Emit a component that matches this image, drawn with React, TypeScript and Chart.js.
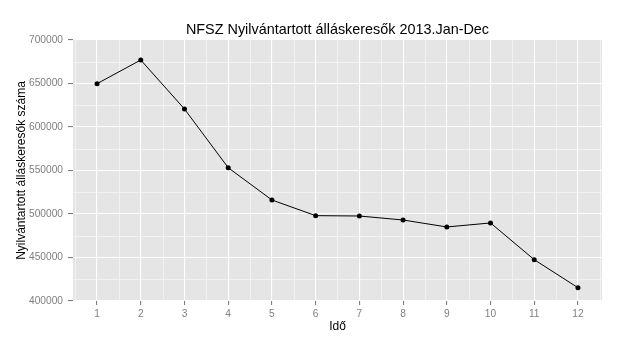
import React, { useEffect, useRef } from "react";
import { Chart, registerables } from "chart.js";

Chart.register(...registerables);

const title = "NFSZ Nyilvántartott álláskeresők 2013.Jan-Dec";
const xTitle = "Idő";
const yTitle = "Nyilvántartott álláskeresők száma";
const months = [1, 2, 3, 4, 5, 6, 7, 8, 9, 10, 11, 12];
const values = [649800, 677000, 620700, 553200, 516100, 498100, 497700, 493100, 485100, 489700, 447500, 415300];
const yTicks = [400000, 450000, 500000, 550000, 600000, 650000, 700000];
const yMinor = [425000, 475000, 525000, 575000, 625000, 675000];
const xMinor = [0.5, 1.5, 2.5, 3.5, 4.5, 5.5, 6.5, 7.5, 8.5, 9.5, 10.5, 11.5, 12.5];

const FONT = "'Liberation Sans', Arial, sans-serif";

const ggPlugin = {
  id: "gg",
  beforeDraw(chart: any) {
    const { ctx, chartArea: a, scales } = chart;
    ctx.save();
    ctx.fillStyle = "#E5E5E5";
    ctx.fillRect(a.left, a.top, a.right - a.left, a.bottom - a.top);
    ctx.strokeStyle = "#F2F2F2";
    ctx.lineWidth = 1;
    ctx.beginPath();
    for (const v of yMinor) {
      const y = Math.round(scales.y.getPixelForValue(v)) + 0.5;
      ctx.moveTo(a.left, y);
      ctx.lineTo(a.right, y);
    }
    for (const v of xMinor) {
      const x = Math.round(scales.x.getPixelForValue(v)) + 0.5;
      ctx.moveTo(x, a.top);
      ctx.lineTo(x, a.bottom);
    }
    ctx.stroke();
    ctx.restore();
  },
  afterDraw(chart: any) {
    const { ctx, chartArea: a } = chart;
    const cx = (a.left + a.right) / 2;
    ctx.save();
    ctx.fillStyle = "#000000";
    ctx.textAlign = "center";
    ctx.textBaseline = "middle";
    ctx.font = `14.4px ${FONT}`;
    ctx.fillText(title, cx, 30.5);
    ctx.font = `12px ${FONT}`;
    ctx.fillText(xTitle, cx, 326.5);
    ctx.translate(22, (a.top + a.bottom) / 2);
    ctx.rotate(-Math.PI / 2);
    ctx.fillText(yTitle, 0, 0);
    ctx.restore();
  },
};

export default function App() {
  const ref = useRef<HTMLCanvasElement>(null);
  useEffect(() => {
    if (!ref.current) return;
    const chart = new Chart(ref.current, {
      type: "line",
      data: {
        datasets: [
          {
            data: months.map((m, i) => ({ x: m, y: values[i] })),
            borderColor: "#000000",
            borderWidth: 1,
            pointRadius: 2.5,
            pointBackgroundColor: "#000000",
            pointBorderWidth: 0,
            tension: 0,
          },
        ],
      },
      options: {
        animation: false,
        responsive: false,
        devicePixelRatio: 1,
        layout: { padding: { left: 0, top: 40, right: 20, bottom: 0 } },
        plugins: { legend: { display: false }, tooltip: { enabled: false }, title: { display: false } },
        scales: {
          x: {
            type: "linear",
            min: 0.45,
            max: 12.55,
            afterFit: (s: any) => {
              s.height = 44;
            },
            afterBuildTicks: (s: any) => {
              s.ticks = months.map((v) => ({ value: v }));
            },
            ticks: {
              color: "#7F7F7F",
              font: { family: FONT, size: 10.2 },
              padding: 3,
              maxRotation: 0,
              autoSkip: false,
              callback: (v: any) => String(v),
            },
            grid: { color: "#FFFFFF", lineWidth: 1.1, tickColor: "#7F7F7F", tickLength: 4 },
            border: { display: false },
          },
          y: {
            type: "linear",
            min: 400000,
            max: 700000,
            afterFit: (s: any) => {
              s.width = 73;
            },
            afterBuildTicks: (s: any) => {
              s.ticks = yTicks.map((v) => ({ value: v }));
            },
            ticks: {
              color: "#7F7F7F",
              font: { family: FONT, size: 10.2 },
              padding: 5,
              autoSkip: false,
              callback: (v: any) => String(v),
            },
            grid: { color: "#FFFFFF", lineWidth: 1.1, tickColor: "#7F7F7F", tickLength: 5 },
            border: { display: false },
          },
        },
      },
      plugins: [ggPlugin],
    });
    return () => chart.destroy();
  }, []);
  return (
    <div style={{ position: "fixed", left: 0, top: 0, width: 622, height: 345, background: "#FFFFFF" }}>
      <canvas ref={ref} width={622} height={345} />
    </div>
  );
}
